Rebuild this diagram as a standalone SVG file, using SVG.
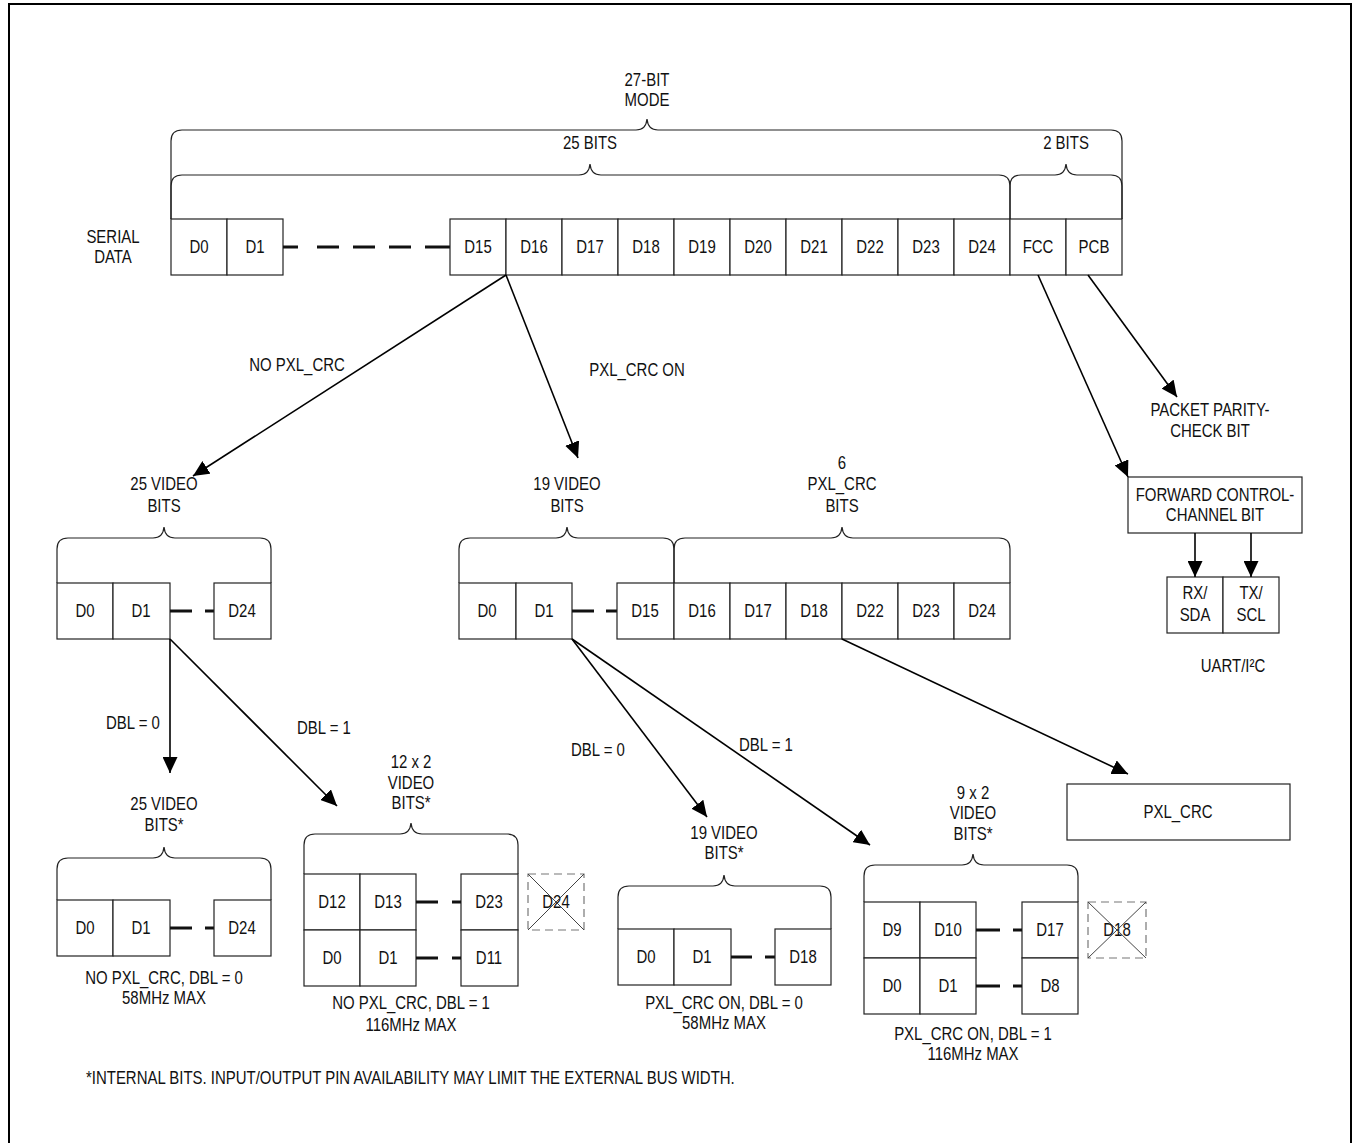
<svg xmlns="http://www.w3.org/2000/svg" width="1353" height="1143" viewBox="0 0 1353 1143">
<style>
.t{font-family:"Liberation Sans",Arial,sans-serif;font-size:17.5px;fill:#111;text-anchor:middle;transform-box:fill-box;transform-origin:50% 50%;transform:scaleX(0.855)}
.tl{text-anchor:start;transform-origin:0 50%}
.c{fill:#fff;stroke:#222;stroke-width:1.2}
.b{fill:none;stroke:#222;stroke-width:1.2}
.d{fill:none;stroke:#111;stroke-width:3}
.a{fill:none;stroke:#000;stroke-width:1.6;marker-end:url(#ah)}
.x{fill:none;stroke:#777;stroke-width:1.2;stroke-dasharray:8 5}
.xl{stroke:#444;stroke-width:1}
</style>
<defs>
<marker id="ah" markerUnits="userSpaceOnUse" markerWidth="17" markerHeight="15" refX="16" refY="7.5" orient="auto">
<path d="M0,0 L16,7.5 L0,15 z" fill="#000"/>
</marker>
</defs>
<rect x="9" y="4" width="1342" height="1150" fill="#fff" stroke="#000" stroke-width="2"/>

<g id="serial">
<text class="t" x="113" y="243">SERIAL</text>
<text class="t" x="113" y="263">DATA</text>
<path class="b" d="M171 219 V141 Q171 130 182 130 H636 Q646 130 647 119 Q648 130 658 130 H1111 Q1122 130 1122 141 V219"/>
<text class="t" x="647" y="86">27-BIT</text>
<text class="t" x="647" y="106">MODE</text>
<path class="b" d="M171 219 V186 Q171 175 182 175 H579 Q589 175 590 164 Q591 175 601 175 H999 Q1010 175 1010 186 V219"/>
<text class="t" x="590" y="149">25 BITS</text>
<path class="b" d="M1010 219 V186 Q1010 175 1021 175 H1055 Q1065 175 1066 164 Q1067 175 1077 175 H1111 Q1122 175 1122 186 V219"/>
<text class="t" x="1066" y="149">2 BITS</text>
<rect class="c" x="171" y="219" width="56" height="56"/><text class="t" x="199" y="253">D0</text>
<rect class="c" x="227" y="219" width="56" height="56"/><text class="t" x="255" y="253">D1</text>
<path class="d" d="M283 247 H298 M317 247 H339 M353 247 H375 M389 247 H411 M425 247 H450"/>
<rect class="c" x="450" y="219" width="56" height="56"/><text class="t" x="478" y="253">D15</text>
<rect class="c" x="506" y="219" width="56" height="56"/><text class="t" x="534" y="253">D16</text>
<rect class="c" x="562" y="219" width="56" height="56"/><text class="t" x="590" y="253">D17</text>
<rect class="c" x="618" y="219" width="56" height="56"/><text class="t" x="646" y="253">D18</text>
<rect class="c" x="674" y="219" width="56" height="56"/><text class="t" x="702" y="253">D19</text>
<rect class="c" x="730" y="219" width="56" height="56"/><text class="t" x="758" y="253">D20</text>
<rect class="c" x="786" y="219" width="56" height="56"/><text class="t" x="814" y="253">D21</text>
<rect class="c" x="842" y="219" width="56" height="56"/><text class="t" x="870" y="253">D22</text>
<rect class="c" x="898" y="219" width="56" height="56"/><text class="t" x="926" y="253">D23</text>
<rect class="c" x="954" y="219" width="56" height="56"/><text class="t" x="982" y="253">D24</text>
<rect class="c" x="1010" y="219" width="56" height="56"/><text class="t" x="1038" y="253">FCC</text>
<rect class="c" x="1066" y="219" width="56" height="56"/><text class="t" x="1094" y="253">PCB</text>
</g>

<g id="pcb-label">
<text class="t" x="1210" y="416">PACKET PARITY-</text>
<text class="t" x="1210" y="437">CHECK BIT</text>
</g>

<g id="fcc-box">
<rect class="c" x="1128" y="477" width="174" height="56"/>
<text class="t" x="1215" y="501">FORWARD CONTROL-</text>
<text class="t" x="1215" y="521">CHANNEL BIT</text>
</g>

<g id="uart">
<rect class="c" x="1167" y="577" width="56" height="56"/>
<rect class="c" x="1223" y="577" width="56" height="56"/>
<text class="t" x="1195" y="599">RX/</text>
<text class="t" x="1195" y="621">SDA</text>
<text class="t" x="1251" y="599">TX/</text>
<text class="t" x="1251" y="621">SCL</text>
<text class="t" x="1233" y="672">UART/I²C</text>
</g>

<g id="g-25video">
<text class="t" x="164" y="490">25 VIDEO</text>
<text class="t" x="164" y="512">BITS</text>
<path class="b" d="M57 583 V549 Q57 538 68 538 H153 Q163 538 164 527 Q165 538 175 538 H260 Q271 538 271 549 V583"/>
<rect class="c" x="57" y="583" width="56" height="56"/><text class="t" x="85" y="617">D0</text>
<rect class="c" x="113" y="583" width="57" height="56"/><text class="t" x="141" y="617">D1</text>
<path class="d" d="M170 611 H192 M205 611 H214"/>
<rect class="c" x="214" y="583" width="57" height="56"/><text class="t" x="242" y="617">D24</text>
</g>

<g id="g-19video">
<text class="t" x="567" y="490">19 VIDEO</text>
<text class="t" x="567" y="512">BITS</text>
<text class="t" x="842" y="469">6</text>
<text class="t" x="842" y="490">PXL_CRC</text>
<text class="t" x="842" y="512">BITS</text>
<path class="b" d="M459 583 V549 Q459 538 470 538 H556 Q566 538 567 527 Q568 538 578 538 H663 Q674 538 674 549 V583"/>
<path class="b" d="M674 583 V549 Q674 538 685 538 H831 Q841 538 842 527 Q843 538 853 538 H999 Q1010 538 1010 549 V583"/>
<rect class="c" x="459" y="583" width="57" height="56"/><text class="t" x="487" y="617">D0</text>
<rect class="c" x="516" y="583" width="56" height="56"/><text class="t" x="544" y="617">D1</text>
<path class="d" d="M572 611 H594 M606 611 H617"/>
<rect class="c" x="617" y="583" width="57" height="56"/><text class="t" x="645" y="617">D15</text>
<rect class="c" x="674" y="583" width="56" height="56"/><text class="t" x="702" y="617">D16</text>
<rect class="c" x="730" y="583" width="56" height="56"/><text class="t" x="758" y="617">D17</text>
<rect class="c" x="786" y="583" width="56" height="56"/><text class="t" x="814" y="617">D18</text>
<rect class="c" x="842" y="583" width="56" height="56"/><text class="t" x="870" y="617">D22</text>
<rect class="c" x="898" y="583" width="56" height="56"/><text class="t" x="926" y="617">D23</text>
<rect class="c" x="954" y="583" width="56" height="56"/><text class="t" x="982" y="617">D24</text>
</g>

<g id="pxl-crc">
<rect class="c" x="1067" y="784" width="223" height="56"/>
<text class="t" x="1178" y="818">PXL_CRC</text>
</g>

<g id="g-nocrc-dbl0">
<text class="t" x="164" y="810">25 VIDEO</text>
<text class="t" x="164" y="831">BITS*</text>
<path class="b" d="M57 900 V869 Q57 858 68 858 H153 Q163 858 164 847 Q165 858 175 858 H260 Q271 858 271 869 V900"/>
<rect class="c" x="57" y="900" width="56" height="56"/><text class="t" x="85" y="934">D0</text>
<rect class="c" x="113" y="900" width="57" height="56"/><text class="t" x="141" y="934">D1</text>
<path class="d" d="M170 928 H192 M205 928 H214"/>
<rect class="c" x="214" y="900" width="57" height="56"/><text class="t" x="242" y="934">D24</text>
<text class="t" x="164" y="984">NO PXL_CRC, DBL = 0</text>
<text class="t" x="164" y="1004">58MHz MAX</text>
</g>

<g id="g-nocrc-dbl1">
<text class="t" x="411" y="768">12 x 2</text>
<text class="t" x="411" y="789">VIDEO</text>
<text class="t" x="411" y="809">BITS*</text>
<path class="b" d="M304 874 V845 Q304 834 315 834 H400 Q410 834 411 823 Q412 834 422 834 H507 Q518 834 518 845 V874"/>
<rect class="c" x="304" y="874" width="56" height="56"/><text class="t" x="332" y="908">D12</text>
<rect class="c" x="360" y="874" width="56" height="56"/><text class="t" x="388" y="908">D13</text>
<rect class="c" x="461" y="874" width="57" height="56"/><text class="t" x="489" y="908">D23</text>
<rect class="c" x="304" y="930" width="56" height="56"/><text class="t" x="332" y="964">D0</text>
<rect class="c" x="360" y="930" width="56" height="56"/><text class="t" x="388" y="964">D1</text>
<rect class="c" x="461" y="930" width="57" height="56"/><text class="t" x="489" y="964">D11</text>
<path class="d" d="M416 902 H438 M452 902 H461 M416 958 H438 M452 958 H461"/>
<rect class="x" x="528" y="874" width="56" height="56"/>
<text class="t" x="556" y="908">D24</text>
<path class="xl" d="M528 874 L584 930 M584 874 L528 930"/>
<text class="t" x="411" y="1009">NO PXL_CRC, DBL = 1</text>
<text class="t" x="411" y="1031">116MHz MAX</text>
</g>

<g id="g-crc-dbl0">
<text class="t" x="724" y="839">19 VIDEO</text>
<text class="t" x="724" y="859">BITS*</text>
<path class="b" d="M618 929 V897 Q618 886 629 886 H713 Q723 886 724 875 Q725 886 735 886 H820 Q831 886 831 897 V929"/>
<rect class="c" x="618" y="929" width="56" height="56"/><text class="t" x="646" y="963">D0</text>
<rect class="c" x="674" y="929" width="57" height="56"/><text class="t" x="702" y="963">D1</text>
<path class="d" d="M731 957 H752 M765 957 H775"/>
<rect class="c" x="775" y="929" width="56" height="56"/><text class="t" x="803" y="963">D18</text>
<text class="t" x="724" y="1009">PXL_CRC ON, DBL = 0</text>
<text class="t" x="724" y="1029">58MHz MAX</text>
</g>

<g id="g-crc-dbl1">
<text class="t" x="973" y="799">9 x 2</text>
<text class="t" x="973" y="819">VIDEO</text>
<text class="t" x="973" y="840">BITS*</text>
<path class="b" d="M864 902 V876 Q864 865 875 865 H962 Q972 865 973 854 Q974 865 984 865 H1067 Q1078 865 1078 876 V902"/>
<rect class="c" x="864" y="902" width="56" height="56"/><text class="t" x="892" y="936">D9</text>
<rect class="c" x="920" y="902" width="56" height="56"/><text class="t" x="948" y="936">D10</text>
<rect class="c" x="1022" y="902" width="56" height="56"/><text class="t" x="1050" y="936">D17</text>
<rect class="c" x="864" y="958" width="56" height="56"/><text class="t" x="892" y="992">D0</text>
<rect class="c" x="920" y="958" width="56" height="56"/><text class="t" x="948" y="992">D1</text>
<rect class="c" x="1022" y="958" width="56" height="56"/><text class="t" x="1050" y="992">D8</text>
<path class="d" d="M976 930 H1000 M1013 930 H1022 M976 986 H1000 M1013 986 H1022"/>
<rect class="x" x="1088" y="902" width="58" height="56"/>
<text class="t" x="1117" y="936">D18</text>
<path class="xl" d="M1088 902 L1146 958 M1146 902 L1088 958"/>
<text class="t" x="973" y="1040">PXL_CRC ON, DBL = 1</text>
<text class="t" x="973" y="1060">116MHz MAX</text>
</g>

<g id="connectors">
<path class="a" d="M506 275 L193 476"/>
<path class="a" d="M506 275 L578 458"/>
<path class="a" d="M1038 275 L1128 477"/>
<path class="a" d="M1088 275 L1177 397"/>
<path class="a" d="M1195 533 V577"/>
<path class="a" d="M1251 533 V577"/>
<path class="a" d="M170 639 V773"/>
<path class="a" d="M170 639 L337 806"/>
<path class="a" d="M572 639 L707 817"/>
<path class="a" d="M572 639 L870 845"/>
<path class="a" d="M842 639 L1128 774"/>
</g>

<g id="labels">
<text class="t" x="297" y="371">NO PXL_CRC</text>
<text class="t" x="637" y="376">PXL_CRC ON</text>
<text class="t" x="133" y="729">DBL = 0</text>
<text class="t" x="324" y="734">DBL = 1</text>
<text class="t" x="598" y="756">DBL = 0</text>
<text class="t" x="766" y="751">DBL = 1</text>
<text class="t tl" x="86" y="1084">*INTERNAL BITS. INPUT/OUTPUT PIN AVAILABILITY MAY LIMIT THE EXTERNAL BUS WIDTH.</text>
</g>
</svg>
